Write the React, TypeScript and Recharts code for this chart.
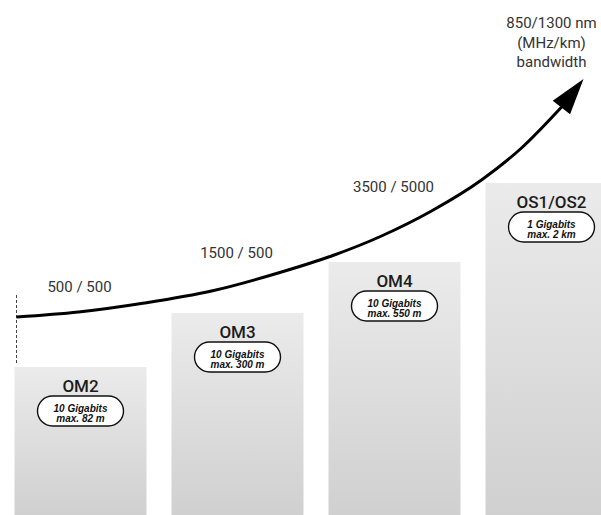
import { ComposedChart, Bar, Scatter, XAxis, YAxis, LabelList, ReferenceLine } from 'recharts'

// fibre categories and their (relative) bar heights
const categories = ['OM2', 'OM3', 'OM4', 'OS1/OS2']
const barHeights = [148, 202, 253, 332]
const speeds = ['10 Gigabits', '10 Gigabits', '10 Gigabits', '1 Gigabits']
const reach = ['max. 82 m', 'max. 300 m', 'max.  550 m', 'max. 2 km']
const bandwidths = ['500 / 500', '1500 / 500', '3500 / 5000']
const bandwidthTitle = ['850/1300 nm', '(MHz/km)', 'bandwidth']

// growth curve
const curveX = [15, 77, 143, 210, 280, 330, 380, 430, 480, 520, 561]
const curveY = [198, 203, 212, 224, 243, 259, 279, 304, 335, 367, 409]
const arrowTip = { x: 582, y: 436 }
const guide = [{ x: 15, y: 220 }, { x: 15, y: 152 }]

const data = categories.map((name, i) => ({ name, h: barHeights[i] }))
const curve = curveX.map((x, i) => ({ x, y: curveY[i] }))

const LABEL_LIFT = [80, 60, 75]
const TEXT_FONT = 'Roboto, "Noto Sans", sans-serif'
const PILL_FONT = '"Liberation Sans", Arial, sans-serif'

// eslint-disable-next-line @typescript-eslint/no-explicit-any
function BarDecor(props: any) {
  const { x, y, width, index } = props
  const cx = x + width / 2
  const pillTop = y + 29
  return (
    <g>
      <text x={cx} y={y + 19} textAnchor="middle" dominantBaseline="central"
        fontFamily={TEXT_FONT} fontSize={17} fontWeight={500} fill="#1c1c1c">
        {categories[index]}
      </text>
      <rect x={cx - 43} y={pillTop} width={86} height={30} rx={15}
        fill="#fff" stroke="#111" strokeWidth={1.4} />
      <text x={cx} y={pillTop + 12} textAnchor="middle" dominantBaseline="central"
        fontFamily={PILL_FONT} fontSize={10} fontStyle="italic" fontWeight={700} fill="#111">
        {speeds[index]}
      </text>
      <text x={cx} y={pillTop + 22.5} textAnchor="middle" dominantBaseline="central"
        fontFamily={PILL_FONT} fontSize={10} fontStyle="italic" fontWeight={700} fill="#111">
        {reach[index]}
      </text>
      {index < bandwidths.length ? (
        <text x={cx - 1} y={y - LABEL_LIFT[index]} textAnchor="middle" dominantBaseline="central"
          fontFamily={TEXT_FONT} fontSize={15} fill="#333">
          {bandwidths[index]}
        </text>
      ) : (
        bandwidthTitle.map((t, k) => (
          <text key={t} x={cx} y={23 + k * 19.5} textAnchor="middle" dominantBaseline="central"
            fontFamily={TEXT_FONT} fontSize={15} fill="#333">
            {t}
          </text>
        ))
      )}
    </g>
  )
}

// eslint-disable-next-line @typescript-eslint/no-explicit-any
function ArrowHead(props: any) {
  const { cx, cy } = props
  const base = curve[curve.length - 1]
  const dx = arrowTip.x - base.x
  const dy = -(arrowTip.y - base.y)
  const len = Math.hypot(dx, dy)
  const ux = dx / len
  const uy = dy / len
  const bx = cx - ux * 36
  const by = cy - uy * 36
  const half = 11
  const pts = [
    [cx, cy],
    [bx - uy * half, by + ux * half],
    [bx + uy * half, by - ux * half],
  ].map(p => p.join(',')).join(' ')
  return <polygon points={pts} fill="#000" />
}

export default function App() {
  return (
    <div style={{ position: 'fixed', left: 0, top: 0, width: 601, height: 515, overflow: 'hidden', background: '#fff' }}>
      <ComposedChart width={630} height={515} data={data} margin={{ top: 0, right: 0.5, bottom: 0, left: 1.5 }}>
        <defs>
          <linearGradient id="barGrad" x1="0" y1="0" x2="0" y2="1">
            <stop offset="0%" stopColor="#ebebeb" />
            <stop offset="100%" stopColor="#d0d0d0" />
          </linearGradient>
        </defs>
        <XAxis dataKey="name" hide />
        <XAxis xAxisId="c" type="number" dataKey="x" domain={[0, 628]} hide allowDataOverflow />
        <YAxis type="number" domain={[0, 515]} hide allowDataOverflow />
        <YAxis yAxisId="c" type="number" dataKey="y" domain={[0, 515]} hide allowDataOverflow />
        <Bar dataKey="h" barSize={132} fill="url(#barGrad)" isAnimationActive={false}>
          <LabelList dataKey="h" content={BarDecor} />
        </Bar>
        <ReferenceLine xAxisId="c" yAxisId="c" segment={guide} stroke="#444" strokeWidth={1}
          strokeDasharray="3 2" ifOverflow="visible" />
        <Scatter xAxisId="c" yAxisId="c" data={curve} line={{ stroke: '#000', strokeWidth: 3 }}
          lineJointType="monotoneX" shape={() => <g />} isAnimationActive={false} />
        <Scatter xAxisId="c" yAxisId="c" data={[arrowTip]} shape={ArrowHead} isAnimationActive={false} />
      </ComposedChart>
    </div>
  )
}
